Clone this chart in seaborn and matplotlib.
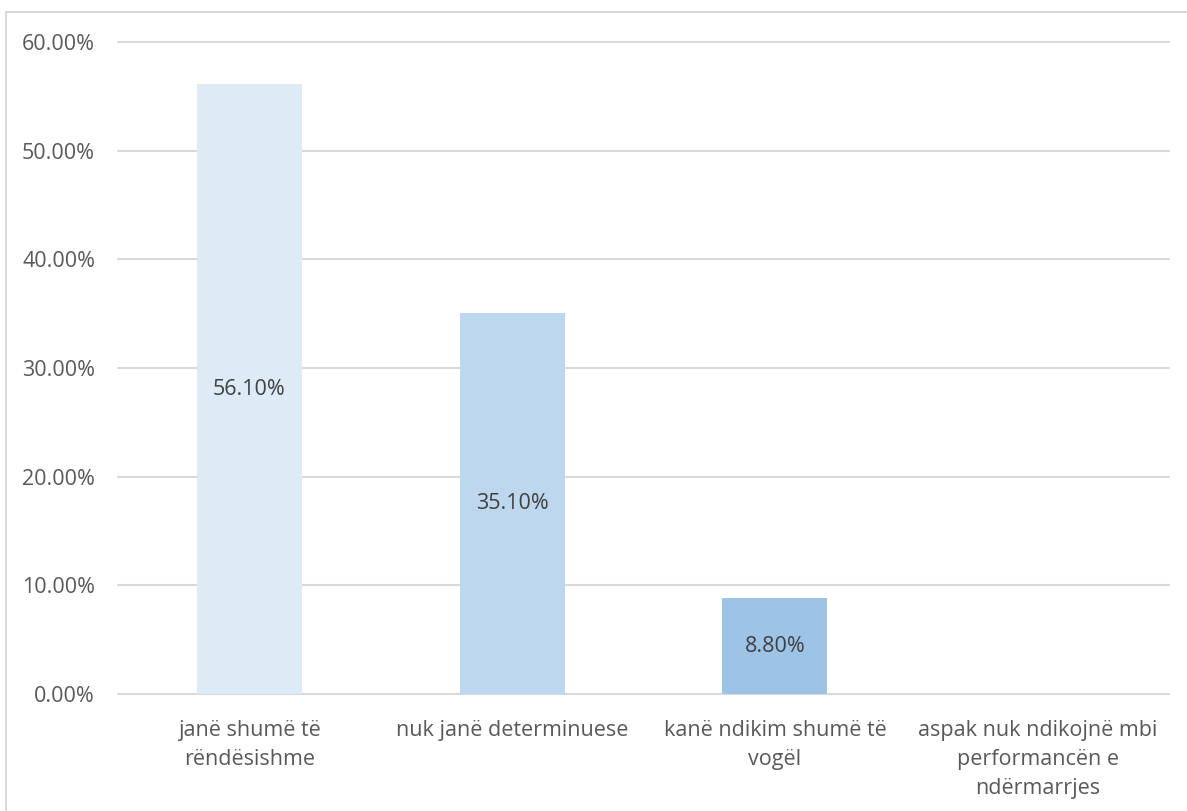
import matplotlib
matplotlib.use("Agg")
import matplotlib.pyplot as plt
import matplotlib.patches as mpatches
from matplotlib.ticker import PercentFormatter
import seaborn as sns
import pandas as pd

categories = [
    "janë shumë të\nrëndësishme",
    "nuk janë determinuese",
    "kanë ndikim shumë të\nvogël",
    "aspak nuk ndikojnë mbi\nperformancën e\nndërmarrjes",
]
values = [56.10, 35.10, 8.80, 0.00]
bar_colors = ["#DDEBF7", "#BDD7EE", "#9DC3E6", "#7FAFDB"]
y_ticks = [0, 10, 20, 30, 40, 50, 60]

sns.set_theme(style="white")
plt.rcParams["font.family"] = ["Open Sans", "DejaVu Sans"]

df = pd.DataFrame({"category": categories, "value": values})

fig = plt.figure(figsize=(11.87, 8.11), dpi=100)
fig.patch.set_facecolor("white")
ax = fig.add_axes([118 / 1187, 1 - 694 / 811, (1169 - 118) / 1187, (694 - 42) / 811])

sns.barplot(
    data=df, x="category", y="value", hue="category",
    palette=bar_colors, width=0.4, legend=False, ax=ax,
    saturation=1, linewidth=0,
)

ax.set_ylim(0, 60)
ax.set_yticks(y_ticks)
ax.yaxis.set_major_formatter(PercentFormatter(decimals=2))
ax.set_xlabel("")
ax.set_ylabel("")
for s in ax.spines.values():
    s.set_visible(False)
ax.set_axisbelow(True)
for t in y_ticks:
    ax.axhline(t, color="#D9D9D9", lw=1.5, zorder=0, clip_on=False)

ax.tick_params(axis="y", length=0, pad=16.5, labelsize=15.5, labelcolor="#595959")
ax.tick_params(axis="x", length=0, pad=18.5, labelsize=15.5, labelcolor="#595959")
for lbl in ax.get_xticklabels():
    lbl.set_linespacing(1.5)
    lbl.set_verticalalignment("top")

for container in ax.containers:
    labels = [f"{v:.2f}%" if v > 0 else "" for v in container.datavalues]
    ax.bar_label(container, labels=labels, label_type="center",
                 fontsize=15.5, color="#404040")

# outer chart frame
fig.patches.append(mpatches.Rectangle(
    (6 / 1187, -0.1), 1.2, 1 - 12 / 811 + 0.1,
    transform=fig.transFigure, fill=False, edgecolor="#D9D9D9", lw=1.5,
))

fig.savefig("out.png", dpi=100)
